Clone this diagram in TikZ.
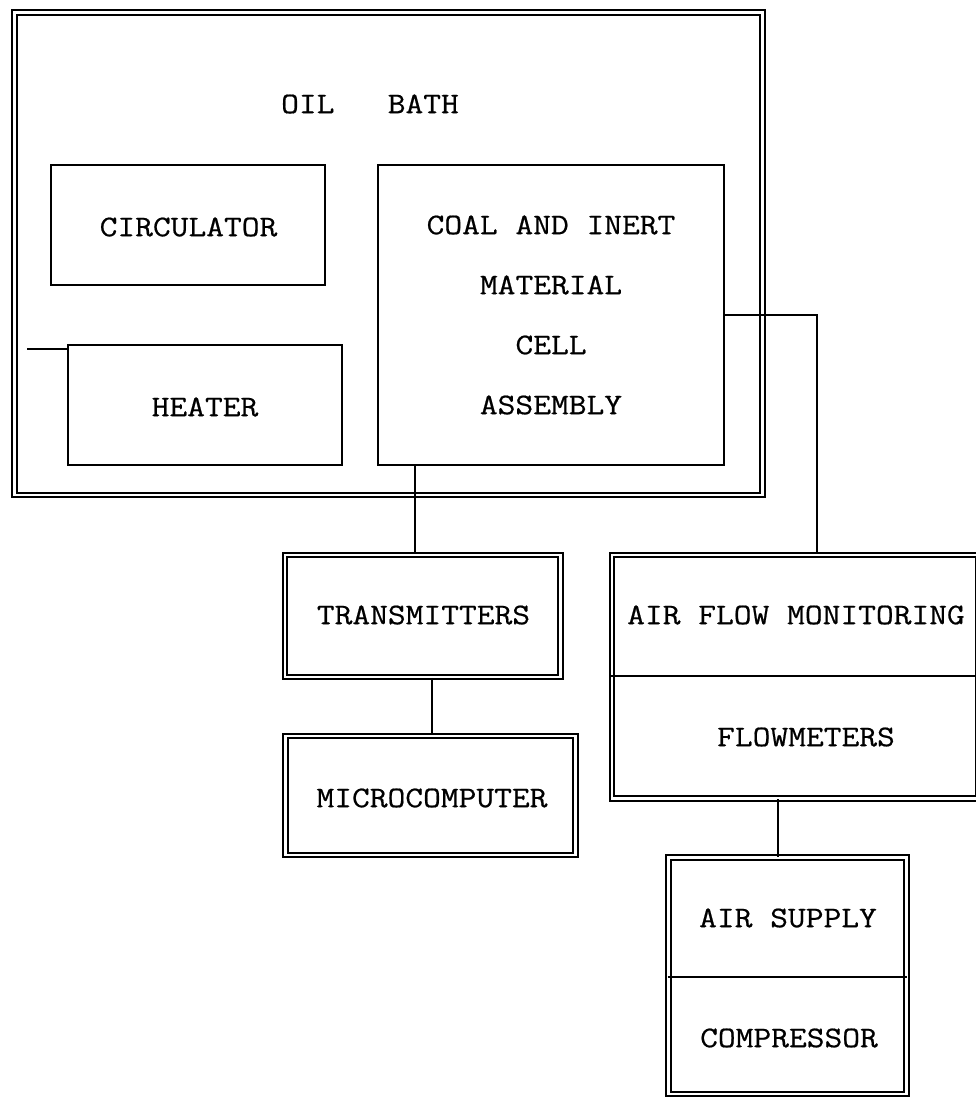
\documentclass[tikz,border=0pt]{standalone}
\usepackage{fontspec}
\setmonofont[FakeStretch=1.15,FakeBold=0.6]{Latin Modern Mono}
\usetikzlibrary{calc}
\begin{document}
\begin{tikzpicture}[x=1pt,y=-1pt,
  every node/.style={font=\ttfamily\fontsize{30}{34}\selectfont, inner sep=0pt},
  single/.style={draw, line width=2.2pt, minimum width=#1},
  dbl/.style={draw, double, double distance=2.6pt, line width=1.8pt},
  conn/.style={line width=1.6pt},
  divider/.style={line width=2pt},
  lbl/.style={anchor=center}]
\useasboundingbox (0,0) rectangle (975,1098);
% boxes
\node[dbl, minimum width=748pt, minimum height=482.5pt] (oil) at (388.5,253.75) {};
\node[single=274pt, minimum height=120pt] (circ) at (188,225) {};
\node[single=274pt, minimum height=120pt] (heat) at (205,405) {};
\node[single=346pt, minimum height=300pt] (coal) at (551,315) {};
\node[dbl, minimum width=275.5pt, minimum height=122pt] (trans) at (422.75,616) {};
\node[dbl, minimum width=290pt, minimum height=119pt] (micro) at (430.5,795.5) {};
\node[dbl, minimum width=366pt, minimum height=243.5pt] (air) at (795,676.75) {};
\node[dbl, minimum width=238pt, minimum height=236.5pt] (sup) at (787.5,975.75) {};
% dividers
\draw[divider] (air.west |- 0,676) coordinate (d1) -- (d1 -| air.east);
\draw[divider] (sup.west |- 0,977) coordinate (d2) -- (d2 -| sup.east);
% labels
\node[lbl] (toil) at (370,104) {OIL\ \ \ BATH};
\node[lbl] (tcirc) at (188.5,227) {CIRCULATOR};
\node[lbl] (theat) at (205,407) {HEATER};
\node[lbl] (tc1) at (551,225) {COAL AND INERT};
\node[lbl] (tc2) at (551,285) {MATERIAL};
\node[lbl] (tc3) at (551,345) {CELL};
\node[lbl] (tc4) at (551,405) {ASSEMBLY};
\node[lbl] (ttr) at (423.5,615) {TRANSMITTERS};
\node[lbl] (tmi) at (432,798) {MICROCOMPUTER};
\node[lbl] (taf) at (796,615) {AIR FLOW MONITORING};
\node[lbl] (tfm) at (806,737) {FLOWMETERS};
\node[lbl] (tas) at (788,918) {AIR SUPPLY};
\node[lbl] (tco) at (789,1038) {COMPRESSOR};
% connectors
\coordinate (h1) at (27,349);
\draw[conn] (h1) -- (h1 -| heat.west);
\coordinate (c1) at (415,0);
\draw[conn] (c1 |- coal.south) -- (c1 |- trans.north);
\coordinate (c3) at (432,0);
\draw[conn] (c3 |- trans.south) -- (c3 |- micro.north);
\coordinate (c2) at (817,315);
\draw[conn] (coal.east) -- (c2) -- (c2 |- air.north);
\coordinate (c4) at (778,0);
\draw[conn] (c4 |- air.south) -- (c4 |- sup.north);
\end{tikzpicture}
\end{document}
